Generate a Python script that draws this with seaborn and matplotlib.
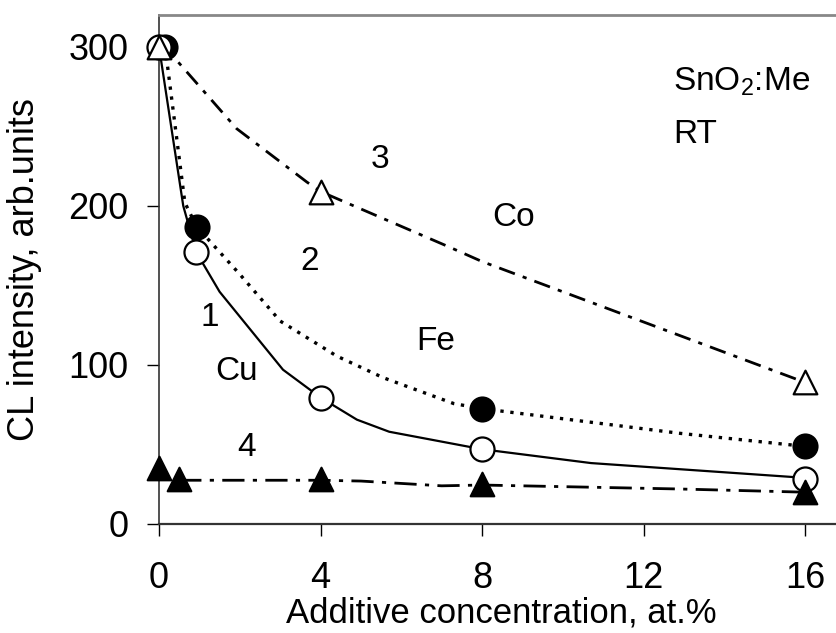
import matplotlib
matplotlib.use("Agg")
import matplotlib.pyplot as plt
import seaborn as sns

# Series 1 - Cu (open circles, solid line)
cu_line_x = [0, 0.6, 0.92, 1.5, 3.07, 4, 4.9, 5.7, 8, 10.7, 16]
cu_line_y = [300, 200, 171, 146, 97, 79.5, 65.6, 58, 47, 38.3, 29]
cu_pts_x = [0, 0.92, 4, 8, 16]
cu_pts_y = [300, 171, 79.5, 47, 28.5]

# Series 2 - Fe (filled circles, dotted line)
fe_line_x = [0.15, 0.64, 0.93, 2.0, 3.0, 4.4, 5.55, 7.3, 8, 12.9, 16]
fe_line_y = [300, 202, 187, 157, 127.6, 105.6, 92, 75.7, 72.5, 57, 48.8]
fe_pts_x = [0.15, 0.93, 8, 16]
fe_pts_y = [300, 187, 72.5, 48.8]

# Series 3 - Co (open triangles, dash-dot line)
co_line_x = [0, 0.35, 1.92, 3.66, 4, 7.2, 8, 16]
co_line_y = [300, 294, 248.6, 215, 209, 174, 165, 89]
co_pts_x = [0, 4, 16]
co_pts_y = [300, 209, 89]

# Series 4 (filled triangles, dash-dot line)
s4_line_x = [0.5, 4, 5, 7, 8, 12.9, 16]
s4_line_y = [27.5, 27.5, 27, 24, 24.5, 22, 20]
s4_pts_x = [0, 0.5, 4, 8, 16]
s4_pts_y = [35, 28, 28, 25, 20]

x_ticks = [0, 4, 8, 12, 16]
y_ticks = [0, 100, 200, 300]

sns.set_style("white")
plt.rcParams['font.family'] = ['Liberation Sans', 'DejaVu Sans']
plt.rcParams['mathtext.default'] = 'regular'
plt.rcParams['text.color'] = 'black'
plt.rcParams['axes.labelcolor'] = 'black'

fig = plt.figure(figsize=(8.37, 6.33), dpi=100)
ax = fig.add_axes([0.19, 0.1722, 0.81, 0.8041])

# lines
sns.lineplot(x=cu_line_x, y=cu_line_y, sort=False, estimator=None, color='black',
             lw=1.6, ax=ax)
sns.lineplot(x=fe_line_x, y=fe_line_y, sort=False, estimator=None, color='black',
             lw=2.4, linestyle=(0, (1, 2)), ax=ax)
sns.lineplot(x=co_line_x, y=co_line_y, sort=False, estimator=None, color='black',
             lw=2.0, linestyle=(0, (6, 3, 1.5, 3)), ax=ax)
sns.lineplot(x=s4_line_x, y=s4_line_y, sort=False, estimator=None, color='black',
             lw=2.0, linestyle=(0, (8, 3, 1.5, 3)), ax=ax)

# markers
sns.scatterplot(x=fe_pts_x, y=fe_pts_y, marker='o', s=300, color='black',
                edgecolor='black', linewidth=1.5, zorder=5, clip_on=False, ax=ax)
sns.scatterplot(x=cu_pts_x, y=cu_pts_y, marker='o', s=300, color='white',
                edgecolor='black', linewidth=1.6, zorder=6, clip_on=False, ax=ax)
sns.scatterplot(x=s4_pts_x, y=s4_pts_y, marker='^', s=290, color='black',
                edgecolor='black', linewidth=1.5, zorder=6, clip_on=False, ax=ax)
sns.scatterplot(x=co_pts_x, y=co_pts_y, marker='^', s=290, color='white',
                edgecolor='black', linewidth=1.6, zorder=7, clip_on=False, ax=ax)

ax.set_xlim(0, 16.79)
ax.set_ylim(0, 320)
ax.set_xticks(x_ticks)
ax.set_yticks(y_ticks)
ax.tick_params(axis='x', direction='out', length=8.6, width=1, pad=18,
               labelsize=26, colors='black', bottom=True)
ax.tick_params(axis='y', direction='out', length=8.6, width=1, pad=13.5,
               labelsize=26, colors='black', left=True)

ax.spines['right'].set_visible(False)
ax.spines['top'].set_color('#888888')
ax.spines['top'].set_linewidth(2)
ax.spines['left'].set_color('#333333')
ax.spines['bottom'].set_color('#333333')
ax.spines['left'].set_linewidth(1.2)
ax.spines['bottom'].set_linewidth(1.6)

ax.set_xlabel('Additive concentration, at.%', fontsize=25)
ax.set_ylabel('CL intensity, arb.units', fontsize=26)
ax.xaxis.set_label_coords(0.505, -0.143)
ax.yaxis.set_label_coords(-0.173, 0.5)

# annotations
ax.text(5.47, 229, '3', fontsize=24, ha='center', va='center')
ax.text(8.77, 192.5, 'Co', fontsize=24, ha='center', va='center')
ax.text(3.74, 164.8, '2', fontsize=24, ha='center', va='center')
ax.text(1.26, 130, '1', fontsize=24, ha='center', va='center')
ax.text(6.84, 114.5, 'Fe', fontsize=24, ha='center', va='center')
ax.text(1.91, 95.6, 'Cu', fontsize=24, ha='center', va='center')
ax.text(2.18, 48.4, '4', fontsize=24, ha='center', va='center')
ax.text(12.73, 278, 'SnO$_2$:Me', fontsize=24, ha='left', va='center')
ax.text(12.73, 244.7, 'RT', fontsize=24, ha='left', va='center')

fig.savefig('out.png', dpi=100)
